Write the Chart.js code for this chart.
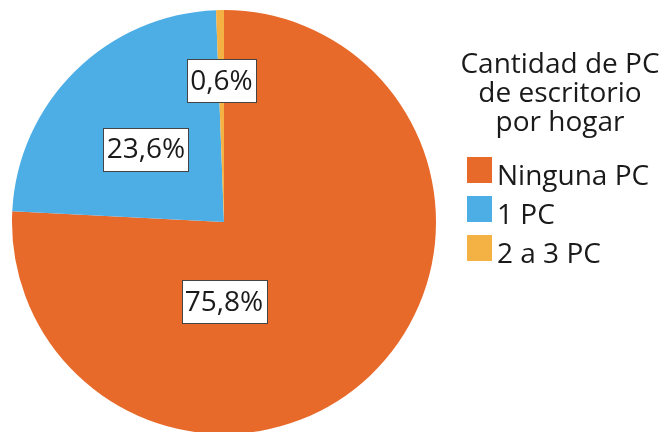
<!DOCTYPE html>
<html lang="es">
<head>
  <meta charset="UTF-8" />
  <title>Cantidad de PC de escritorio por hogar</title>
  <script src="https://cdn.jsdelivr.net/npm/chart.js"></script>
  <style>
    html, body { margin: 0; padding: 0; background: #fff; }
    #wrap { width: 666px; height: 432px; }
  </style>
</head>
<body>
  <div id="wrap"><canvas id="pcChart" width="666" height="432"></canvas></div>

  <script>
    // datos
    const categories = ['Ninguna PC', '1 PC', '2 a 3 PC'];
    const shares = [75.8, 23.6, 0.6];
    const colors = ['#E86A2A', '#4DAEE6', '#F4B144'];
    const legendTitle = ['Cantidad de PC', 'de escritorio', 'por hogar'];

    // posición de etiquetas: ángulo (grados desde arriba, horario) y fracción del radio
    const labelSpots = [[180, 0.377], [313, 0.504], [359, 0.667]];

    const FONT = '"Open Sans", "Noto Sans", sans-serif';
    const fmt = v => v.toFixed(1).replace('.', ',') + '%';

    // etiquetas con caja blanca
    const boxLabels = {
      id: 'boxLabels',
      afterDatasetsDraw(chart) {
        const ctx = chart.ctx;
        const meta = chart.getDatasetMeta(0);
        ctx.save();
        ctx.font = '28px ' + FONT;
        ctx.textAlign = 'center';
        ctx.textBaseline = 'middle';
        meta.data.forEach((arc, i) => {
          const [deg, frac] = labelSpots[i];
          const a = deg * Math.PI / 180;
          const r = arc.outerRadius * frac;
          const x = arc.x + r * Math.sin(a);
          const y = arc.y - r * Math.cos(a);
          const txt = fmt(shares[i]);
          const w = Math.round(ctx.measureText(txt).width + 7);
          const h = 43;
          const bx = Math.round(x - w / 2), by = Math.round(y - h / 2);
          ctx.fillStyle = '#ffffff';
          ctx.fillRect(bx, by, w, h);
          ctx.strokeStyle = '#444444';
          ctx.lineWidth = 1;
          ctx.strokeRect(bx + 0.5, by + 0.5, w, h);
          ctx.fillStyle = '#1a1a1a';
          ctx.fillText(txt, x, y + 1);
        });
        ctx.restore();
      }
    };

    // leyenda a la derecha
    const sideLegend = {
      id: 'sideLegend',
      afterDraw(chart) {
        const ctx = chart.ctx;
        ctx.save();
        ctx.font = '28px ' + FONT;
        ctx.fillStyle = '#1a1a1a';
        ctx.textBaseline = 'alphabetic';
        ctx.textAlign = 'center';
        legendTitle.forEach((line, i) => ctx.fillText(line, 560, 73 + i * 29));
        ctx.textAlign = 'left';
        categories.forEach((c, i) => {
          const top = 157 + i * 39;
          ctx.fillStyle = colors[i];
          ctx.fillRect(467, top, 25, 26);
          ctx.fillStyle = '#1a1a1a';
          ctx.fillText(c, 497, top + 28);
        });
        ctx.restore();
      }
    };

    new Chart(document.getElementById('pcChart'), {
      type: 'pie',
      data: {
        labels: categories,
        datasets: [{
          data: shares,
          backgroundColor: colors,
          borderWidth: 0,
          radius: 212
        }]
      },
      options: {
        responsive: false,
        animation: false,
        layout: { padding: { left: 12, right: 230, top: 12, bottom: 0 } },
        plugins: {
          legend: { display: false },
          tooltip: { enabled: false }
        }
      },
      plugins: [boxLabels, sideLegend]
    });
  </script>
</body>
</html>
